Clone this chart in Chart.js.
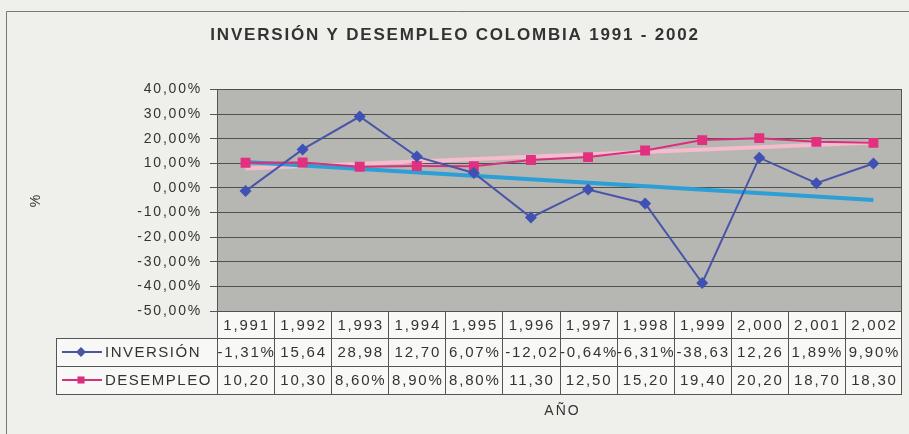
<!DOCTYPE html>
<html>
<head>
<meta charset="utf-8">
<script src="https://cdn.jsdelivr.net/npm/chart.js@4.4.1/dist/chart.umd.min.js"></script>
<style>
  html, body { margin: 0; padding: 0; background: #efefeb; }
  #wrap { width: 909px; height: 434px; position: relative; }
</style>
</head>
<body>
<div id="wrap"><canvas id="chart"></canvas></div>
<script>
// data
const years = ["1991", "1992", "1993", "1994", "1995", "1996", "1997", "1998", "1999", "2000", "2001", "2002"];
const yearLabels = ["1,991", "1,992", "1,993", "1,994", "1,995", "1,996", "1,997", "1,998", "1,999", "2,000", "2,001", "2,002"];
const inversion = [-1.31, 15.64, 28.98, 12.70, 6.07, -12.02, -0.64, -6.31, -38.63, 12.26, 1.89, 9.90];
const desempleo = [10.20, 10.30, 8.60, 8.90, 8.80, 11.30, 12.50, 15.20, 19.40, 20.20, 18.70, 18.30];
const inversionText = ["-1,31%", "15,64", "28,98", "12,70", "6,07%", "-12,02", "-0,64%", "-6,31%", "-38,63", "12,26", "1,89%", "9,90%"];
const desempleoText = ["10,20", "10,30", "8,60%", "8,90%", "8,80%", "11,30", "12,50", "15,20", "19,40", "20,20", "18,70", "18,30"];
// trend lines: only the two ends, as seen in the picture
const inversionTrend = [10.5, null, null, null, null, null, null, null, null, null, null, -4.9];
const desempleoTrend = [7.9, null, null, null, null, null, null, null, null, null, null, 18.4];
const yMin = -50;
const yMax = 40;
const yStep = 10;

const INV_COLOR = "#4a55a8";
const DES_COLOR = "#d8307c";

Chart.defaults.font.family = "'Liberation Sans', Arial, sans-serif";
Chart.defaults.color = "#333";

const fmtPct = (v) => v.toFixed(2).replace(".", ",") + "%";

const tablePlugin = {
    id: "dataTable",
    beforeDraw(chart) {
        const { ctx, chartArea: a, width, height } = chart;
        ctx.save();
        ctx.fillStyle = "#efefeb";
        ctx.fillRect(0, 0, width, height);
        // outer frame
        ctx.strokeStyle = "#777";
        ctx.lineWidth = 1;
        ctx.beginPath();
        ctx.moveTo(6.5, height);
        ctx.lineTo(6.5, 11.5);
        ctx.lineTo(width, 11.5);
        ctx.stroke();
        // plot area
        ctx.fillStyle = "#b6b6b2";
        ctx.fillRect(a.left, a.top, a.right - a.left, a.bottom - a.top);
        // table cells
        ctx.fillStyle = "#f8f8f6";
        ctx.fillRect(a.left, a.bottom, a.right - a.left, 83);
        ctx.fillRect(56, a.bottom + 27, a.left - 56, 56);
        ctx.restore();
        ctx.letterSpacing = "1.8px";
    },
    afterDraw(chart) {
        const { ctx, chartArea: a } = chart;
        const x = chart.scales.x;
        const half = (a.right - a.left) / years.length / 2;
        const r0 = a.bottom, r1 = a.bottom + 27, r2 = a.bottom + 55, r3 = a.bottom + 83;
        ctx.save();
        ctx.strokeStyle = "#555";
        ctx.lineWidth = 1;
        ctx.beginPath();
        // plot right border
        ctx.moveTo(Math.round(a.right) - 0.5, a.top);
        ctx.lineTo(Math.round(a.right) - 0.5, r3);
        // column lines
        years.forEach((y, i) => {
            const cx = Math.round(x.getPixelForValue(i) - half) + 0.5;
            ctx.moveTo(cx, r0);
            ctx.lineTo(cx, r3);
        });
        [r1, r2, r3].forEach((r) => {
            ctx.moveTo(56, Math.round(r) + 0.5);
            ctx.lineTo(a.right, Math.round(r) + 0.5);
        });
        ctx.moveTo(56.5, r1);
        ctx.lineTo(56.5, r3);
        ctx.stroke();

        ctx.letterSpacing = "1.8px";
        ctx.fillStyle = "#333";
        ctx.font = "15px 'Liberation Sans', Arial, sans-serif";
        ctx.textAlign = "center";
        ctx.textBaseline = "middle";
        years.forEach((y, i) => {
            const cx = x.getPixelForValue(i) + 1;
            ctx.fillText(yearLabels[i], cx, (r0 + r1) / 2 + 1);
            ctx.fillText(inversionText[i], cx, (r1 + r2) / 2 + 1);
            ctx.fillText(desempleoText[i], cx, (r2 + r3) / 2 + 1);
        });

        // legend keys
        const keys = [
            { label: "INVERSIÓN", color: INV_COLOR, y: (r1 + r2) / 2, style: "rectRot" },
            { label: "DESEMPLEO", color: DES_COLOR, y: (r2 + r3) / 2, style: "rect" },
        ];
        keys.forEach((k) => {
            ctx.strokeStyle = k.color;
            ctx.lineWidth = 2;
            ctx.beginPath();
            ctx.moveTo(62, k.y);
            ctx.lineTo(102, k.y);
            ctx.stroke();
            ctx.fillStyle = k.color;
            Chart.helpers.drawPoint(ctx, { pointStyle: k.style, radius: 5, borderWidth: 0 }, 81, k.y);
            ctx.fillStyle = "#333";
            ctx.textAlign = "left";
            ctx.letterSpacing = "1.5px";
            ctx.fillText(k.label, 105, k.y + 1);
        });

        // x axis title
        ctx.textAlign = "center";
        ctx.letterSpacing = "2px";
        ctx.font = "14px 'Liberation Sans', Arial, sans-serif";
        ctx.fillText("AÑO", (a.left + a.right) / 2 + 3, r3 + 17);
        ctx.restore();
    },
};

new Chart(document.getElementById("chart"), {
    type: "line",
    data: {
        labels: years,
        datasets: [
            {
                label: "INVERSIÓN",
                data: inversion,
                borderColor: INV_COLOR,
                backgroundColor: "#3f52b4",
                borderWidth: 2,
                pointStyle: "rectRot",
                pointRadius: 6,
                pointBorderWidth: 0,
                order: 1,
            },
            {
                label: "DESEMPLEO",
                data: desempleo,
                borderColor: DES_COLOR,
                backgroundColor: "#e0307e",
                borderWidth: 2,
                pointStyle: "rect",
                pointRadius: 7,
                pointBorderWidth: 0,
                order: 1,
            },
            {
                label: "Tendencia inversión",
                data: inversionTrend,
                borderColor: "#2c9fd6",
                borderWidth: 4,
                pointRadius: 0,
                spanGaps: true,
                order: 2,
            },
            {
                label: "Tendencia desempleo",
                data: desempleoTrend,
                borderColor: "#f4bccd",
                borderWidth: 4,
                pointRadius: 0,
                spanGaps: true,
                order: 2,
            },
        ],
    },
    options: {
        responsive: true,
        maintainAspectRatio: false,
        animation: false,
        layout: { padding: { top: 0, left: 6, right: 5, bottom: 123 } },
        plugins: {
            legend: { display: false },
            tooltip: { enabled: false },
            title: {
                display: true,
                text: "INVERSIÓN Y DESEMPLEO COLOMBIA 1991 - 2002",
                color: "#333",
                font: { size: 17, weight: "bold" },
                padding: { top: 25, bottom: 44 },
            },
        },
        scales: {
            x: {
                display: false,
                offset: true,
            },
            y: {
                min: yMin,
                max: yMax,
                afterFit: (scale) => {
                    scale.width = 211;
                },
                ticks: {
                    stepSize: yStep,
                    padding: 8,
                    color: "#333",
                    font: { size: 14 },
                    callback: (v) => fmtPct(v),
                },
                grid: {
                    color: "#505050",
                    lineWidth: 1,
                    tickLength: 7,
                    tickColor: "#555",
                },
                border: { color: "#555" },
                title: {
                    display: true,
                    text: "%",
                    color: "#333",
                    font: { size: 14 },
                    padding: { top: 22 },
                },
            },
        },
    },
    plugins: [tablePlugin],
});
</script>
</body>
</html>
